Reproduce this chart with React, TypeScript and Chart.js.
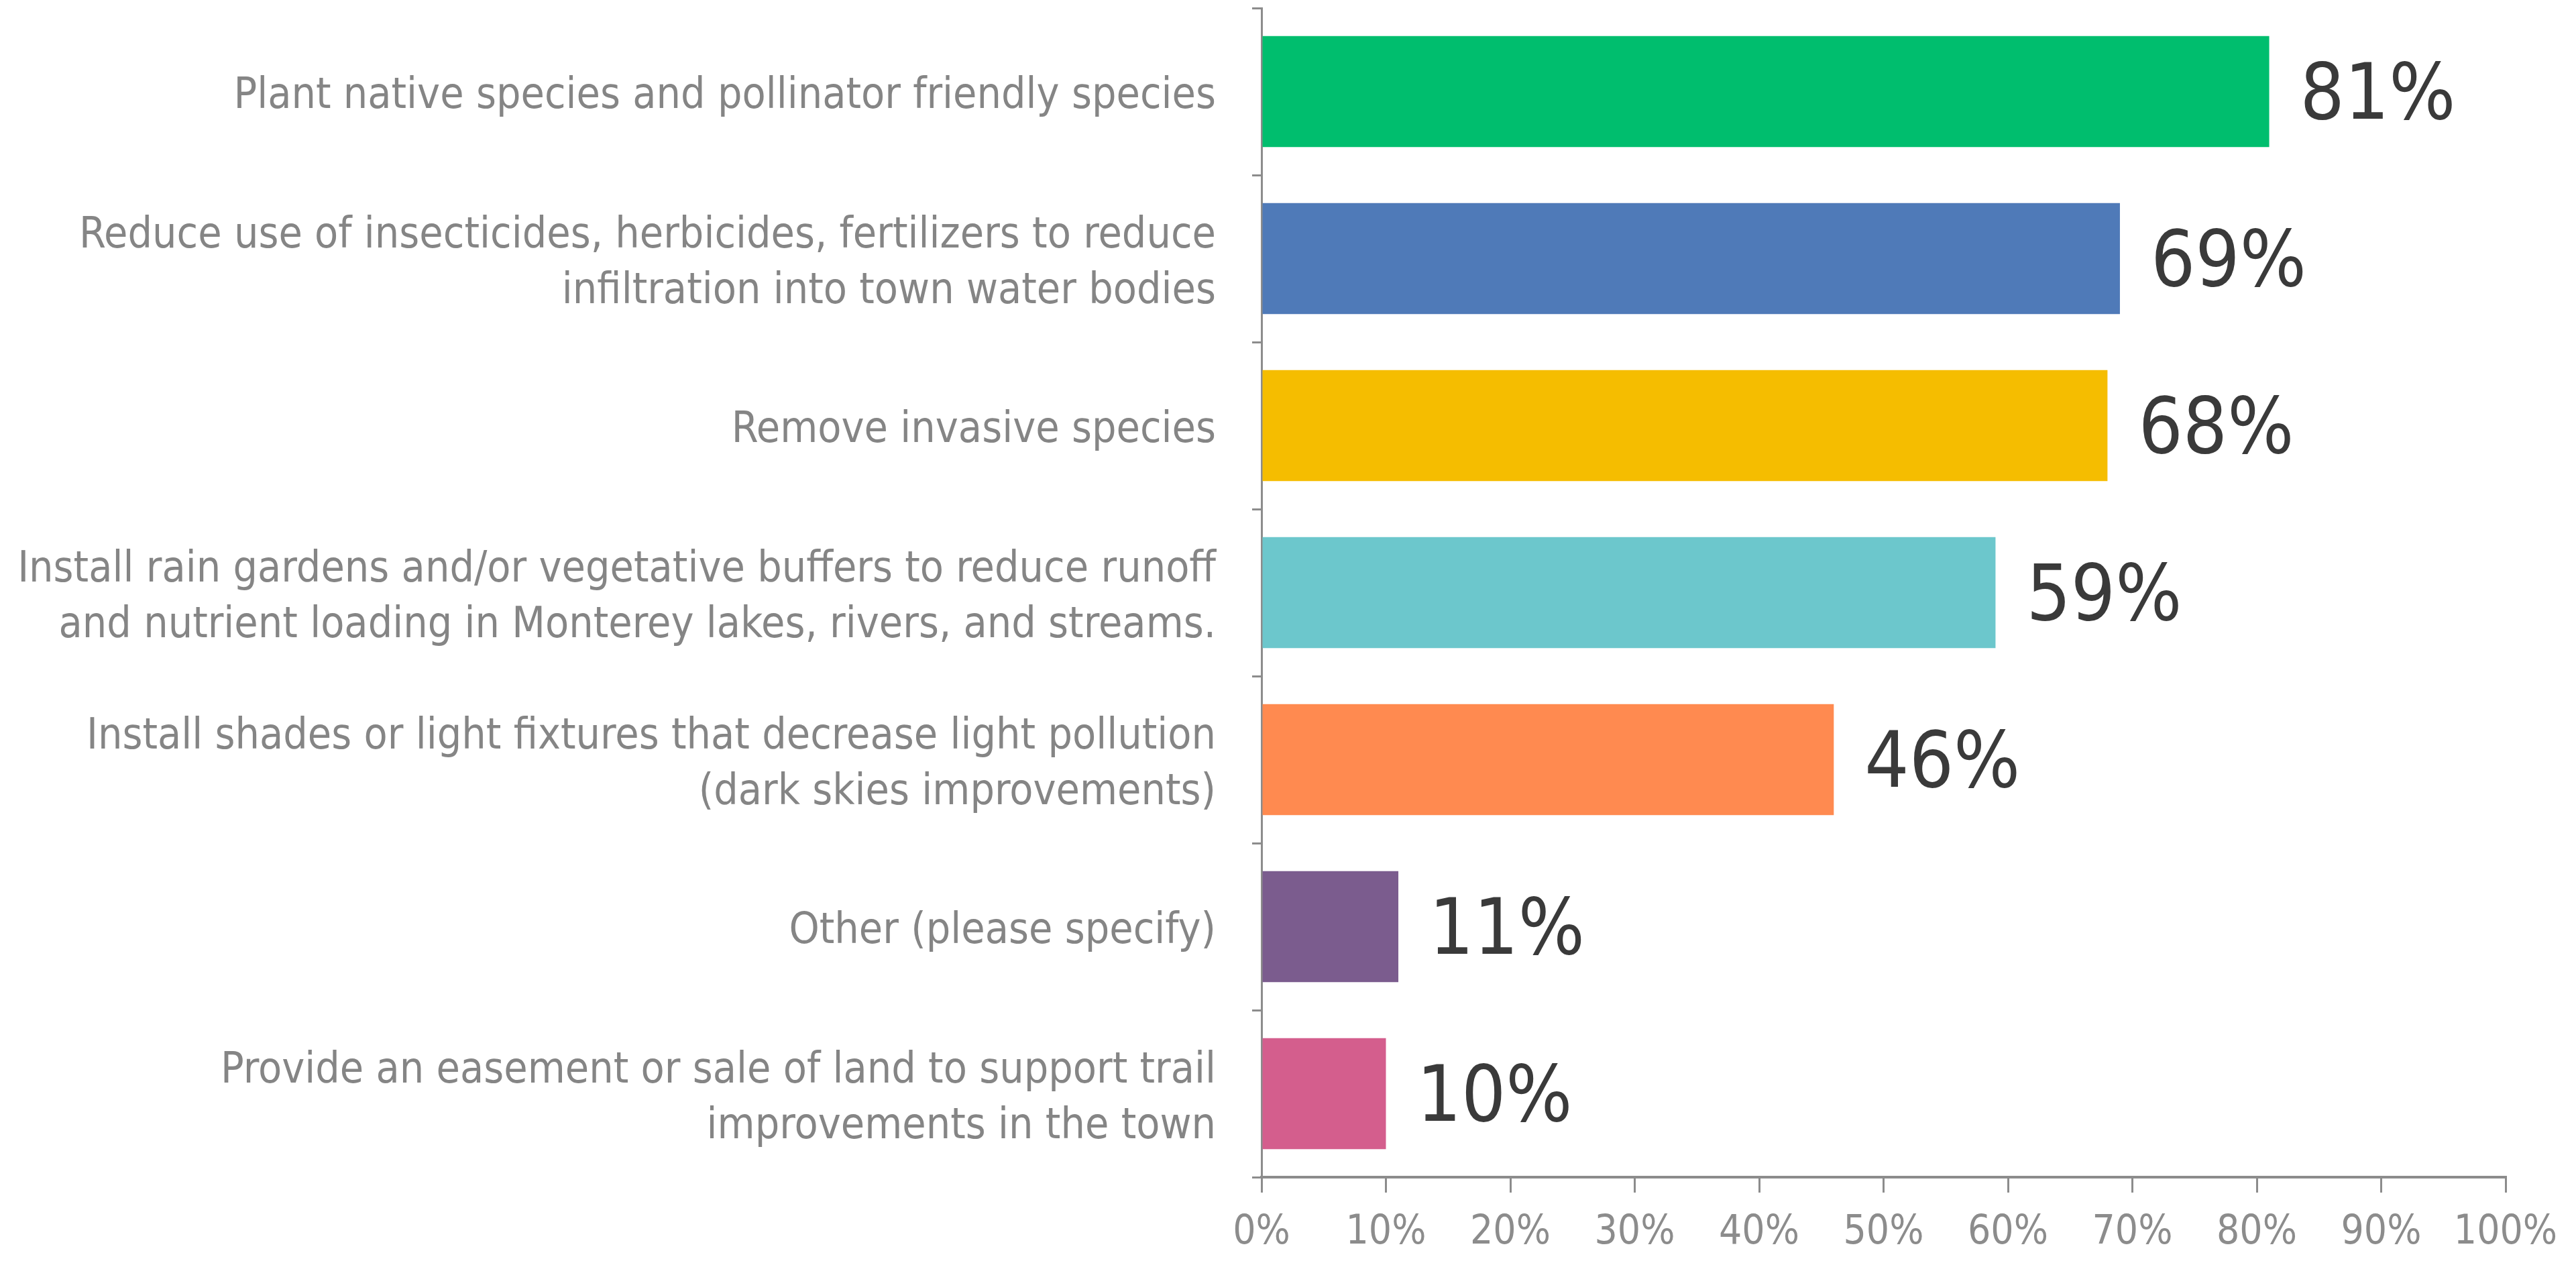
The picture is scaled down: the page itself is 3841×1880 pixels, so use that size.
import React, { useEffect, useRef } from "react";
import { Chart, registerables } from "chart.js";

Chart.register(...registerables);

const categories: (string | string[])[] = [
  "Plant native species and pollinator friendly species",
  ["Reduce use of insecticides, herbicides, fertilizers to reduce", "infiltration into town water bodies"],
  "Remove invasive species",
  ["Install rain gardens and/or vegetative buffers to reduce runoff", "and nutrient loading in Monterey lakes, rivers, and streams."],
  ["Install shades or light fixtures that decrease light pollution", "(dark skies improvements)"],
  "Other (please specify)",
  ["Provide an easement or sale of land to support trail", "improvements in the town"],
];
const values: number[] = [81, 69, 68, 59, 46, 11, 10];
const barColors: string[] = ["#00BE6E", "#4F7AB8", "#F5BD00", "#6CC7CC", "#FF8A50", "#7B5C8E", "#D45E8D"];
const xTicks: number[] = [0, 10, 20, 30, 40, 50, 60, 70, 80, 90, 100];

const FONT = "'Liberation Sans Narrow', 'DejaVu Sans Condensed', Lato, sans-serif";

const valueLabels = {
  id: "valueLabels",
  afterDatasetsDraw(chart: any) {
    const ctx = chart.ctx;
    const meta = chart.getDatasetMeta(0);
    ctx.save();
    ctx.fillStyle = "#3a3a3a";
    ctx.font = `116px ${FONT}`;
    ctx.textAlign = "left";
    ctx.textBaseline = "middle";
    meta.data.forEach((bar: any, i: number) => {
      ctx.fillText(`${values[i]}%`, bar.x + 46, bar.y + 10);
    });
    ctx.restore();
  },
};

export default function App() {
  const ref = useRef<HTMLCanvasElement | null>(null);
  useEffect(() => {
    document.body.style.margin = "0";
    if (!ref.current) return;
    const chart = new Chart(ref.current, {
      type: "bar",
      data: {
        labels: categories,
        datasets: [
          {
            data: values,
            backgroundColor: barColors,
            borderWidth: 0,
            categoryPercentage: 1,
            barPercentage: 0.665,
          },
        ],
      },
      plugins: [valueLabels],
      options: {
        indexAxis: "y",
        animation: false,
        responsive: false,
        devicePixelRatio: 1,
        layout: { padding: { top: 12, right: 105, left: 0, bottom: 0 } },
        plugins: { legend: { display: false }, tooltip: { enabled: false } },
        scales: {
          x: {
            min: 0,
            max: 100,
            afterBuildTicks: (scale: any) => {
              scale.ticks = xTicks.map((v) => ({ value: v }));
            },
            afterFit: (scale: any) => {
              scale.height = 125;
              scale.paddingLeft = 0;
              scale.paddingRight = 0;
            },
            ticks: {
              callback: (v: any) => `${v}%`,
              color: "#8c8c8c",
              font: { family: FONT, size: 60 },
              padding: 24,
              maxRotation: 0,
              autoSkip: false,
            },
            grid: { drawOnChartArea: false, drawTicks: true, tickLength: 23, color: "#8c8c8c", lineWidth: 3 },
            border: { display: true, color: "#8c8c8c", width: 4 },
          },
          y: {
            afterFit: (scale: any) => {
              scale.width = 1881;
              scale.paddingTop = 0;
              scale.paddingBottom = 0;
            },
            ticks: {
              color: "#858585",
              font: { family: FONT, size: 64, lineHeight: 1.3 },
              padding: 54,
              labelOffset: 8,
              autoSkip: false,
            },
            grid: { drawOnChartArea: false, drawTicks: true, tickLength: 14, color: "#8c8c8c", lineWidth: 3, offset: true },
            border: { display: true, color: "#8c8c8c", width: 3 },
          },
        },
      },
    } as any);
    return () => chart.destroy();
  }, []);
  return (
    <div style={{ position: "absolute", left: 0, top: 0, width: 3841, height: 1880, background: "#fff" }}>
      <canvas ref={ref} width={3841} height={1880} style={{ width: 3841, height: 1880 }} />
    </div>
  );
}
